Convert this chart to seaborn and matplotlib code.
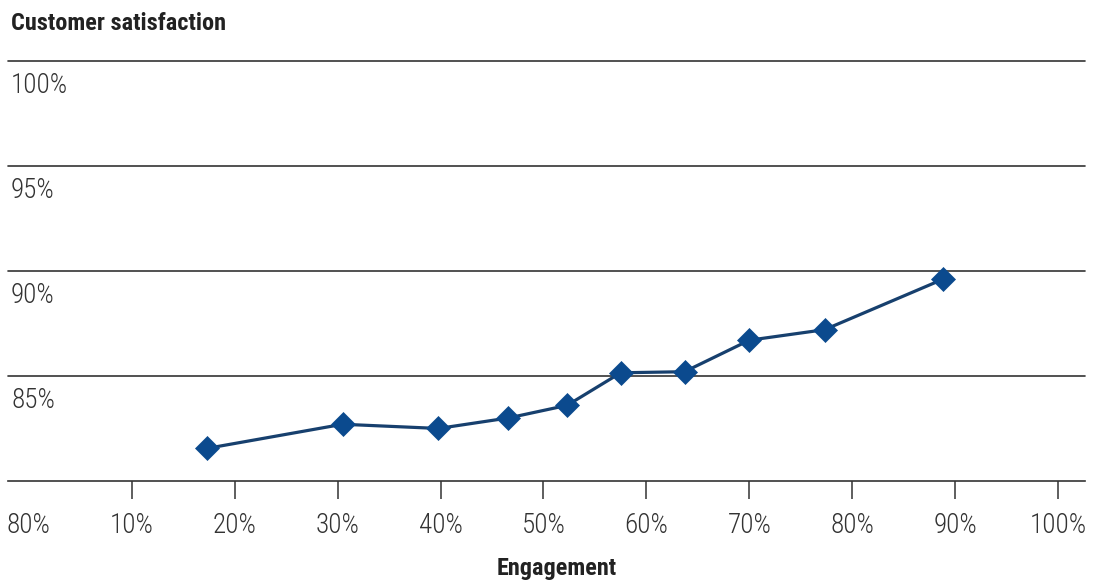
import matplotlib
matplotlib.use("Agg")
import matplotlib.pyplot as plt
from matplotlib import font_manager
import seaborn as sns
import pandas as pd

# ---- data ----
engagement = [17.3, 30.5, 39.8, 46.6, 52.3, 57.5, 63.7, 70.0, 77.3, 88.8]
satisfaction = [81.55, 82.7, 82.5, 83.0, 83.6, 85.15, 85.2, 86.7, 87.2, 89.6]
x_tick_values = [0, 10, 20, 30, 40, 50, 60, 70, 80, 90, 100]
x_tick_labels = ["80%", "10%", "20%", "30%", "40%", "50%", "60%", "70%", "80%", "90%", "100%"]
y_grid_values = [85, 90, 95, 100]
y_grid_labels = ["85%", "90%", "95%", "100%"]
title_text = "Customer satisfaction"
xlabel_text = "Engagement"

sns.set_style("white")

# pick a condensed family if one is installed
available = {f.name for f in font_manager.fontManager.ttflist}
choices = [
    ("Roboto Condensed", 19.5, 17.5),
    ("Liberation Sans Narrow", 17.0, 17.5),
    ("DejaVu Sans Condensed", 15.5, 15.0),
    ("Roboto", 15.0, 14.0),
    ("Liberation Sans", 15.0, 14.0),
]
fam, label_size, bold_size = "DejaVu Sans", 14.0, 13.0
for name, ls, bs in choices:
    if name in available:
        fam, label_size, bold_size = name, ls, bs
        break
plt.rcParams["font.family"] = [fam, "DejaVu Sans"]

W, H = 1093, 583
fig = plt.figure(figsize=(W / 100, H / 100), dpi=100)
ax_left, ax_right = 8.3 / W, 1085 / W
ax_bottom, ax_top = 1 - 481 / H, 1 - 60.7 / H
ax = fig.add_axes([ax_left, ax_bottom, ax_right - ax_left, ax_top - ax_bottom])

df = pd.DataFrame({"Engagement": engagement, "Satisfaction": satisfaction})
line_color = "#17406e"
marker_color = "#0b4a8e"
sns.lineplot(data=df, x="Engagement", y="Satisfaction", ax=ax, color=line_color,
             linewidth=2.3, marker="D", markersize=12,
             markerfacecolor=marker_color, markeredgecolor=marker_color,
             markeredgewidth=0.5, zorder=3)

ax.set_xlim(-1.98, 102.6)
ax.set_ylim(80, 100)

for s in ["top", "left", "right"]:
    ax.spines[s].set_visible(False)
ax.spines["bottom"].set_color("#333333")
ax.spines["bottom"].set_linewidth(1.2)

# horizontal gridlines
ax.set_yticks(y_grid_values)
ax.yaxis.grid(True, color="#333333", linewidth=1.2)
ax.tick_params(axis="y", left=False, labelleft=False)
for gl in ax.get_ygridlines():
    gl.set_clip_on(False)

label_weight = "light" if fam in ("Roboto", "Roboto Condensed") else "normal"

# y labels under each gridline
for v, lab in zip(y_grid_values, y_grid_labels):
    ax.annotate(lab, xy=(0, v), xycoords=("axes fraction", "data"),
                xytext=(2, -17.5), textcoords="offset points",
                ha="left", va="center", fontsize=label_size, color="#333333",
                fontweight=label_weight)

ax.set_xticks(x_tick_values)
ax.set_xticklabels(x_tick_labels, fontweight=label_weight)
ax.tick_params(axis="x", bottom=True, direction="out", length=13, width=1.1,
               color="#333333", labelsize=label_size, labelcolor="#333333", pad=9)
ax.xaxis.get_major_ticks()[0].tick1line.set_visible(False)

ax.set_xlabel("")
ax.set_ylabel("")

fig.text(11 / W, 1 - 23 / H, title_text, ha="left", va="center",
         fontsize=bold_size, fontweight="bold", color="#222222")
fig.text(557 / W, 1 - 568 / H, xlabel_text, ha="center", va="center",
         fontsize=bold_size, fontweight="bold", color="#222222")

fig.savefig("out.png", dpi=100)
